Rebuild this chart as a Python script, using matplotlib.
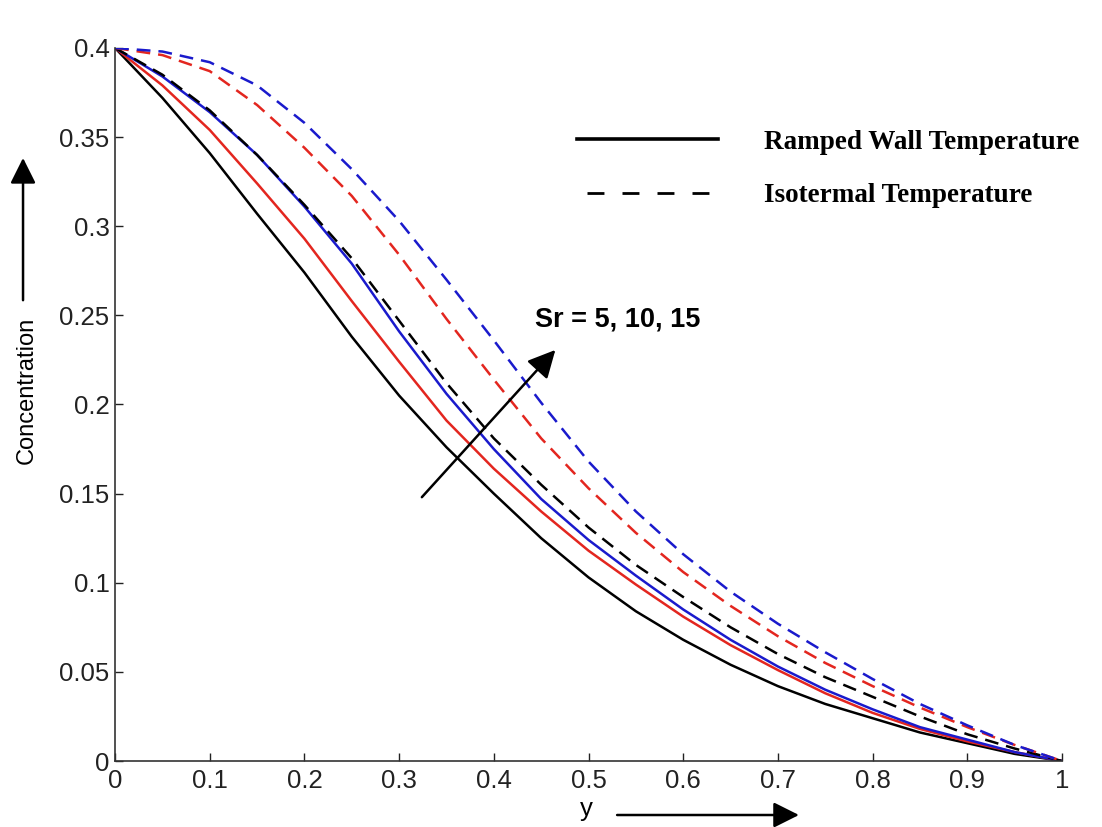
import numpy as np
import matplotlib.pyplot as plt
from matplotlib.lines import Line2D
from matplotlib.ticker import FormatStrFormatter

# distance from the plate
y_pos = [0.00, 0.05, 0.10, 0.15, 0.20, 0.25, 0.30, 0.35, 0.40, 0.45, 0.50,
         0.55, 0.60, 0.65, 0.70, 0.75, 0.80, 0.85, 0.90, 0.95, 1.00]

# ramped wall temperature, Sr = 5, 10, 15
ramped_sr5 = [0.400, 0.372, 0.341, 0.307, 0.274, 0.238, 0.205, 0.176, 0.150, 0.125, 0.103,
              0.084, 0.068, 0.054, 0.042, 0.032, 0.024, 0.016, 0.010, 0.004, 0.000]
ramped_sr10 = [0.400, 0.379, 0.354, 0.324, 0.293, 0.258, 0.224, 0.191, 0.164, 0.140, 0.118,
               0.099, 0.081, 0.065, 0.051, 0.038, 0.027, 0.018, 0.011, 0.005, 0.000]
ramped_sr15 = [0.400, 0.384, 0.364, 0.340, 0.311, 0.279, 0.241, 0.206, 0.175, 0.147, 0.124,
               0.104, 0.085, 0.068, 0.053, 0.040, 0.029, 0.019, 0.012, 0.005, 0.000]

# isothermal temperature, Sr = 5, 10, 15
iso_sr5 = [0.400, 0.385, 0.365, 0.340, 0.312, 0.282, 0.247, 0.212, 0.181, 0.155, 0.131,
           0.110, 0.092, 0.075, 0.060, 0.047, 0.036, 0.025, 0.015, 0.007, 0.000]
iso_sr10 = [0.400, 0.396, 0.387, 0.368, 0.344, 0.317, 0.284, 0.248, 0.214, 0.181, 0.153,
            0.128, 0.106, 0.087, 0.070, 0.055, 0.042, 0.030, 0.019, 0.009, 0.000]
iso_sr15 = [0.400, 0.398, 0.392, 0.379, 0.358, 0.332, 0.303, 0.270, 0.236, 0.201, 0.168,
            0.140, 0.116, 0.095, 0.077, 0.061, 0.046, 0.032, 0.020, 0.009, 0.000]

colors = ['k', '#e3261f', '#1a1acc']
legend_labels = ['Ramped Wall Temperature', 'Isotermal Temperature']

plt.rcParams['font.family'] = ['Liberation Sans', 'DejaVu Sans']

fig = plt.figure(figsize=(11.02, 8.27), dpi=100)
ax = fig.add_axes([0.1044, 0.0798, 0.8593, 0.8622])

for curve, c in zip([ramped_sr5, ramped_sr10, ramped_sr15], colors):
    ax.plot(y_pos, curve, color=c, lw=1.8)
for curve, c in zip([iso_sr5, iso_sr10, iso_sr15], colors):
    ax.plot(y_pos, curve, color=c, lw=1.8, ls='--', dashes=(5.5, 3.2))

ax.set_xlim(0, 1)
ax.set_ylim(0, 0.4)
ax.set_xticks(np.linspace(0, 1, 11))
ax.set_yticks(np.linspace(0, 0.4, 9))
ax.xaxis.set_major_formatter(FormatStrFormatter('%g'))
ax.yaxis.set_major_formatter(FormatStrFormatter('%g'))
ax.tick_params(direction='in', length=6, width=1, labelsize=18.5, colors='#222222')
ax.tick_params(axis='x', pad=6)
ax.tick_params(axis='y', pad=4)
for side in ['top', 'right']:
    ax.spines[side].set_visible(False)
for side in ['left', 'bottom']:
    ax.spines[side].set_color('#333333')
    ax.spines[side].set_linewidth(1.2)

ax.set_ylabel('Concentration', fontsize=17)
ax.yaxis.set_label_coords(-0.082, 0.52)
ax.set_xlabel('y', fontsize=18.5)
ax.xaxis.set_label_coords(0.498, -0.05)

# legend drawn as two black line samples
handles = [Line2D([], [], color='k', lw=2.6),
           Line2D([], [], color='k', lw=2.0, ls=(9, (6.1, 6.5)))]
ax.legend(handles, legend_labels, loc='upper left', bbox_to_anchor=(0.488, 0.885),
          frameon=False, borderpad=0, borderaxespad=0,
          handlelength=5.2, handletextpad=1.7, labelspacing=1.05,
          prop=dict(family=['Liberation Serif', 'DejaVu Serif'], weight='bold', size=19.5))

# Sr arrow
ax.annotate('', xy=(0.465, 0.2306), xytext=(0.324, 0.148),
            arrowprops=dict(arrowstyle='-|>,head_length=0.6,head_width=0.3',
                            color='k', lw=1.8, mutation_scale=28,
                            shrinkA=0, shrinkB=0))
ax.text(0.4435, 0.2474, 'Sr = 5, 10, 15', fontsize=19.5, fontweight='bold',
        va='center', ha='left')

# axis direction arrows
arrow_kw = dict(arrowstyle='-|>,head_length=0.6,head_width=0.3', color='k',
                lw=1.8, mutation_scale=26, shrinkA=0, shrinkB=0)
ax.annotate('', xy=(0.0209, 0.809), xytext=(0.0209, 0.637),
            xycoords='figure fraction', textcoords='figure fraction',
            arrowprops=arrow_kw, annotation_clip=False)
ax.annotate('', xy=(0.725, 0.0145), xytext=(0.560, 0.0145),
            xycoords='figure fraction', textcoords='figure fraction',
            arrowprops=arrow_kw, annotation_clip=False)

fig.savefig('out.png', dpi=100)
